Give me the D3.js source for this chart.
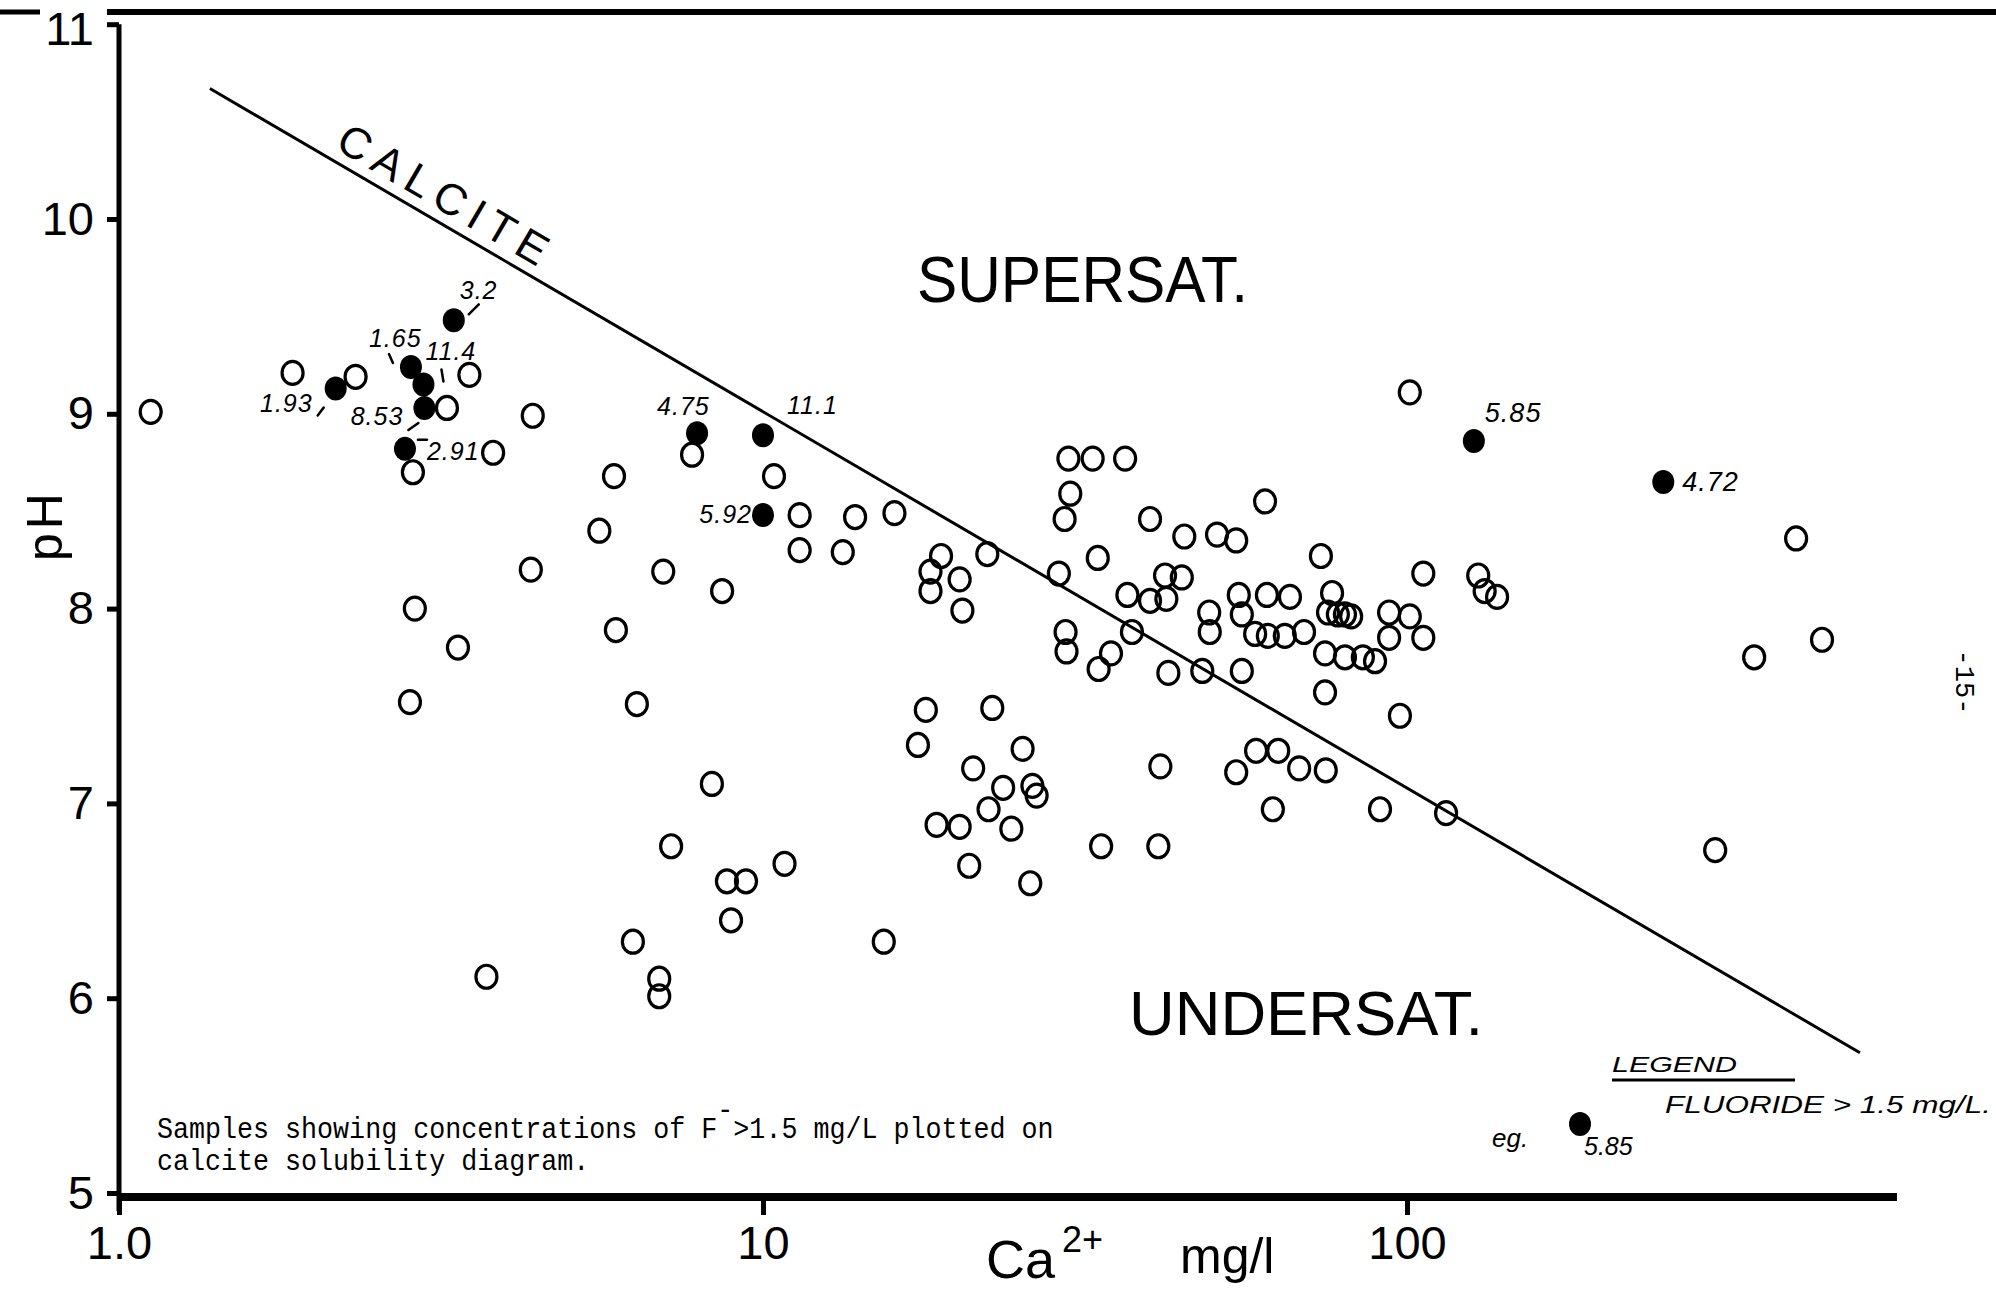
<!DOCTYPE html>
<html>
<head>
<meta charset="utf-8">
<script src="https://cdn.jsdelivr.net/npm/d3@7"></script>
<style>
  html, body { margin: 0; padding: 0; background: #fff; }
  svg { display: block; }
</style>
</head>
<body>
<div id="chart"></div>
<script>
// samples (open circles): Ca2+ mg/l and pH
const caValues = [
  1.12, 1.86, 2.33, 3.50, 3.23, 4.39, 2.86, 3.81, 4.36, 2.88, 3.36, 2.83, 3.72,
  7.76, 5.87, 10.4, 5.57, 11.4, 13.9, 16.0, 11.4, 13.3, 7.00, 8.64, 5.91, 6.37,
  8.33, 7.20, 8.79, 9.41, 8.92, 10.8, 6.28, 6.90, 6.90, 15.4,
  18.9, 18.2, 18.2, 20.2, 20.4, 22.3, 28.8, 33.1, 36.8, 37.4, 29.5, 29.6, 34.7, 33.2,
  17.9, 22.7, 17.4, 25.3, 21.2, 23.6, 26.2, 26.6, 22.4, 18.6, 20.2, 24.3, 33.5, 20.9, 26.0,
  29.8, 32.5, 36.5, 30.0, 29.4, 39.9, 60.2, 45.1, 50.7, 54.3, 73.5, 106, 129, 132, 138,
  42.1, 44.7, 39.9, 42.3, 54.8, 60.6, 65.8, 76.5, 75.4, 78.1, 80.1, 81.9, 93.8, 101,
  49.3, 49.4, 55.4, 58.1, 60.8, 64.6, 69.2, 93.8, 106, 42.6, 48.1, 55.4,
  74.6, 80.1, 85.4, 89.2, 74.6, 97.5, 58.3, 63.1, 41.4, 54.3, 68.0, 74.8,
  61.9, 90.8, 115, 41.1, 101, 402, 346, 441, 301
]
const phValues = [
  9.01, 9.21, 9.19, 9.20, 9.03, 8.99, 8.70, 8.80, 8.20, 8.00, 7.80, 7.52, 6.11,
  8.79, 8.68, 8.68, 8.40, 8.48, 8.47, 8.49, 8.30, 8.29, 8.19, 8.09, 7.89, 7.51,
  7.10, 6.78, 6.60, 6.60, 6.40, 6.69, 6.29, 6.10, 6.01, 6.29,
  8.27, 8.19, 8.09, 8.15, 7.99, 8.28, 8.18, 8.26, 8.07, 7.88, 7.88, 7.78, 7.77, 7.69,
  7.48, 7.49, 7.30, 7.28, 7.18, 7.08, 7.09, 7.04, 6.97, 6.89, 6.88, 6.87, 6.78, 6.68, 6.59,
  8.77, 8.77, 8.77, 8.59, 8.46, 8.46, 8.55, 8.37, 8.38, 8.35, 8.27, 8.18, 8.17, 8.09, 8.06,
  8.17, 8.16, 8.04, 8.05, 8.07, 8.07, 8.06, 8.08, 7.98, 7.97, 7.97, 7.96, 7.98, 7.96,
  7.98, 7.88, 7.97, 7.87, 7.86, 7.86, 7.88, 7.85, 7.85, 7.67, 7.68, 7.68,
  7.77, 7.75, 7.75, 7.73, 7.57, 7.45, 7.27, 7.27, 7.19, 7.16, 7.18, 7.17,
  6.97, 6.97, 6.95, 6.78, 9.11, 8.36, 7.75, 7.84, 6.76
]

// samples with fluoride > 1.5 mg/L (filled dots)
const fluorideCa = [3.31, 2.17, 2.84, 2.97, 2.98, 2.78, 7.90, 10.0, 10.0, 127, 250]
const fluoridePH = [9.48, 9.13, 9.24, 9.15, 9.03, 8.82, 8.90, 8.89, 8.48, 8.86, 8.65]
const fluorideLabels = ['3.2', '1.93', '1.65', '11.4', '8.53', '2.91', '4.75', '11.1', '5.92', '5.85', '4.72']

// calcite saturation line end points
const calciteCa = [1.384, 505]
const calcitePH = [10.67, 5.72]

const xTickValues = [1, 10, 100]
const xTickLabels = ['1.0', '10', '100']
const yTickValues = [5, 6, 7, 8, 9, 10, 11]

// label placement next to each filled dot (pixels), plus the little hand-drawn leader marks
const labelLayout = [
  { dx: 6, dy: -21, anchor: 'start', mark: [15, -6, 25, -16] },
  { dx: -23, dy: 24, anchor: 'end', mark: [-12, 19, -18, 27] },
  { dx: -42, dy: -20, anchor: 'start', mark: [-22, -13, -18, -4] },
  { dx: 2, dy: -25, anchor: 'start', mark: [18, -15, 20, -3] },
  { dx: -21, dy: 17, anchor: 'end', mark: [-6, 15, -16, 22] },
  { dx: 22, dy: 11, anchor: 'start', mark: [13, -9, 22, -9] },
  { dx: -40, dy: -18, anchor: 'start', mark: null },
  { dx: 24, dy: -21, anchor: 'start', mark: null },
  { dx: -11, dy: 8, anchor: 'end', mark: null },
  { dx: 11, dy: -19, anchor: 'start', mark: null },
  { dx: 19, dy: 9, anchor: 'start', mark: null }
]

const width = 1996
const height = 1291
const sans = "'Liberation Sans', Arial, sans-serif"
const mono = "'Liberation Mono', 'DejaVu Sans Mono', monospace"

const svg = d3.select('#chart')
  .append('svg')
  .attr('width', width)
  .attr('height', height)
  .style('background', '#fff')

const xScale = d3.scaleLog().domain([1, 1000]).range([119, 2051])
const yScale = d3.scaleLinear().domain([5, 10]).range([1193, 219])

// top rule of the page
svg.append('line')
  .attr('x1', 107).attr('x2', width).attr('y1', 12).attr('y2', 12)
  .attr('stroke', '#000').attr('stroke-width', 6)
svg.append('line')
  .attr('x1', 0).attr('x2', 40).attr('y1', 12).attr('y2', 12)
  .attr('stroke', '#000').attr('stroke-width', 5)

// y axis
const yAxis = d3.axisLeft(yScale)
  .tickValues(yTickValues)
  .tickSize(12)
  .tickPadding(13)
  .tickFormat(d3.format('d'))
const gy = svg.append('g')
  .attr('class', 'axis y-axis')
  .attr('transform', 'translate(' + xScale(1) + ',0)')
  .call(yAxis)
  .attr('font-size', 47)
  .attr('font-family', sans)
gy.select('.domain').remove()
gy.selectAll('.tick line').attr('stroke-width', 5)
gy.selectAll('.tick text')
  .attr('fill', '#000')
  .attr('y', d => d === 11 ? 5 : 0)

svg.append('line')
  .attr('x1', xScale(1)).attr('x2', xScale(1))
  .attr('y1', yScale(11)).attr('y2', yScale(5) + 18)
  .attr('stroke', '#000').attr('stroke-width', 5)

// x axis
const xAxis = d3.axisBottom(xScale)
  .tickValues(xTickValues)
  .tickSize(18)
  .tickPadding(11)
  .tickFormat((d, i) => xTickLabels[i])
const gx = svg.append('g')
  .attr('class', 'axis x-axis')
  .attr('transform', 'translate(0,' + (yScale(5) + 4) + ')')
  .call(xAxis)
  .attr('font-size', 47)
  .attr('font-family', sans)
gx.select('.domain').remove()
gx.selectAll('.tick line').attr('stroke-width', 5)
gx.selectAll('.tick text').attr('fill', '#000')

svg.append('line')
  .attr('x1', xScale(1)).attr('x2', 1897)
  .attr('y1', yScale(5) + 4).attr('y2', yScale(5) + 4)
  .attr('stroke', '#000').attr('stroke-width', 8)

// axis titles
svg.append('text')
  .attr('transform', 'translate(62,525) rotate(-90)')
  .attr('text-anchor', 'middle')
  .attr('font-family', sans)
  .attr('font-size', 50)
  .attr('letter-spacing', 4)
  .text('pH')

svg.append('text')
  .attr('x', 986).attr('y', 1278)
  .attr('font-family', sans)
  .attr('font-size', 54)
  .text('Ca')
svg.append('text')
  .attr('x', 1062).attr('y', 1252)
  .attr('font-family', sans)
  .attr('font-size', 36)
  .text('2+')
svg.append('text')
  .attr('x', 1180).attr('y', 1273)
  .attr('font-family', sans)
  .attr('font-size', 50)
  .text('mg/l')

// calcite solubility line
const lx1 = xScale(calciteCa[0])
const ly1 = yScale(calcitePH[0])
const lx2 = xScale(calciteCa[1])
const ly2 = yScale(calcitePH[1])
svg.append('line')
  .attr('x1', lx1).attr('y1', ly1).attr('x2', lx2).attr('y2', ly2)
  .attr('stroke', '#000').attr('stroke-width', 3)

const angle = Math.atan2(ly2 - ly1, lx2 - lx1) * 180 / Math.PI
const cx = 430
const cy = ly1 + (cx - lx1) * (ly2 - ly1) / (lx2 - lx1)
svg.append('text')
  .attr('transform', 'translate(' + cx + ',' + cy + ') rotate(' + angle + ')')
  .attr('y', -11)
  .attr('text-anchor', 'middle')
  .attr('font-family', sans)
  .attr('font-size', 44)
  .attr('textLength', 236)
  .attr('lengthAdjust', 'spacing')
  .text('CALCITE')

// region labels
svg.append('text')
  .attr('x', 917).attr('y', 302)
  .attr('font-family', sans)
  .attr('font-size', 64)
  .attr('textLength', 331)
  .attr('lengthAdjust', 'spacingAndGlyphs')
  .text('SUPERSAT.')
svg.append('text')
  .attr('x', 1129).attr('y', 1035)
  .attr('font-family', sans)
  .attr('font-size', 63)
  .attr('textLength', 354)
  .attr('lengthAdjust', 'spacingAndGlyphs')
  .text('UNDERSAT.')

// open samples
const openSamples = caValues.map((c, i) => ({ ca: c, ph: phValues[i] }))
svg.append('g')
  .selectAll('ellipse')
  .data(openSamples)
  .enter()
  .append('ellipse')
  .attr('cx', d => xScale(d.ca))
  .attr('cy', d => yScale(d.ph))
  .attr('rx', 10.5)
  .attr('ry', 11.5)
  .attr('fill', 'none')
  .attr('stroke', '#000')
  .attr('stroke-width', 3.2)

// fluoride samples
const fluorideSamples = fluorideCa.map((c, i) => ({
  ca: c, ph: fluoridePH[i], label: fluorideLabels[i], layout: labelLayout[i]
}))
const fg = svg.append('g')
fg.selectAll('ellipse')
  .data(fluorideSamples)
  .enter()
  .append('ellipse')
  .attr('cx', d => xScale(d.ca))
  .attr('cy', d => yScale(d.ph))
  .attr('rx', 11)
  .attr('ry', 12)
  .attr('fill', '#000')

fg.selectAll('text')
  .data(fluorideSamples)
  .enter()
  .append('text')
  .attr('x', d => xScale(d.ca) + d.layout.dx)
  .attr('y', d => yScale(d.ph) + d.layout.dy)
  .attr('text-anchor', d => d.layout.anchor)
  .attr('font-family', sans)
  .attr('font-style', 'italic')
  .attr('font-size', d => d.ca > 100 ? 27 : 25)
  .attr('letter-spacing', 1)
  .text(d => d.label)

fg.selectAll('line')
  .data(fluorideSamples.filter(d => d.layout.mark))
  .enter()
  .append('line')
  .attr('x1', d => xScale(d.ca) + d.layout.mark[0])
  .attr('y1', d => yScale(d.ph) + d.layout.mark[1])
  .attr('x2', d => xScale(d.ca) + d.layout.mark[2])
  .attr('y2', d => yScale(d.ph) + d.layout.mark[3])
  .attr('stroke', '#000')
  .attr('stroke-width', 2.5)
  .attr('stroke-linecap', 'round')

// caption
const cap1 = svg.append('text')
  .attr('transform', 'translate(157,1138) scale(0.89,1)')
  .attr('font-family', mono)
  .attr('font-size', 30)
cap1.append('tspan').text('Samples showing concentrations of F')
cap1.append('tspan').attr('dy', -19).text('-')
cap1.append('tspan').attr('dy', 19).text('>1.5 mg/L plotted on')
svg.append('text')
  .attr('transform', 'translate(157,1170) scale(0.89,1)')
  .attr('font-family', mono)
  .attr('font-size', 30)
  .text('calcite solubility diagram.')

// legend
svg.append('text')
  .attr('x', 1612).attr('y', 1072)
  .attr('font-family', sans).attr('font-style', 'italic')
  .attr('font-size', 22)
  .attr('textLength', 125)
  .attr('lengthAdjust', 'spacingAndGlyphs')
  .text('LEGEND')
svg.append('line')
  .attr('x1', 1612).attr('x2', 1795).attr('y1', 1080).attr('y2', 1080)
  .attr('stroke', '#000').attr('stroke-width', 3)
svg.append('text')
  .attr('x', 1665).attr('y', 1113)
  .attr('font-family', sans).attr('font-style', 'italic')
  .attr('font-size', 24)
  .attr('textLength', 326)
  .attr('lengthAdjust', 'spacingAndGlyphs')
  .text('FLUORIDE > 1.5 mg/L.')
svg.append('text')
  .attr('x', 1492).attr('y', 1147)
  .attr('font-family', sans).attr('font-style', 'italic')
  .attr('font-size', 26)
  .text('eg.')
svg.append('ellipse')
  .attr('cx', 1580).attr('cy', 1124).attr('rx', 11).attr('ry', 12)
  .attr('fill', '#000')
svg.append('text')
  .attr('x', 1584).attr('y', 1155)
  .attr('font-family', sans).attr('font-style', 'italic')
  .attr('font-size', 25)
  .text('5.85')

// page number
svg.append('text')
  .attr('transform', 'translate(1956,682) rotate(90)')
  .attr('text-anchor', 'middle')
  .attr('font-family', mono)
  .attr('font-size', 27)
  .text('-15-')
</script>
</body>
</html>
